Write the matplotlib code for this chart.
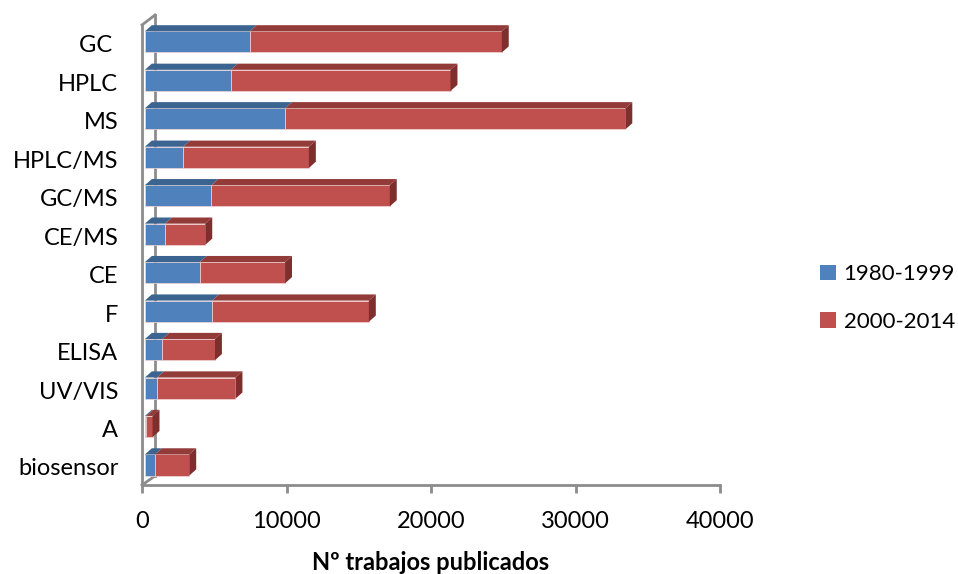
import matplotlib.pyplot as plt
from matplotlib.patches import Polygon, Patch
from matplotlib.lines import Line2D

plt.rcParams['font.family'] = ['Lato', 'DejaVu Sans']

categories = ['GC ', 'HPLC', 'MS', 'HPLC/MS', 'GC/MS', 'CE/MS', 'CE', 'F',
              'ELISA', 'UV/VIS', 'A', 'biosensor']
serie_1980_1999 = [7250, 5950, 9700, 2650, 4600, 1400, 3800, 4650, 1200, 850, 100, 700]
serie_2000_2014 = [17450, 15200, 23550, 8700, 12350, 2780, 5900, 10850, 3650, 5420, 430, 2370]
series_names = ['1980-1999', '2000-2014']
xticks = [0, 10000, 20000, 30000, 40000]

# colours: front, top, side
blue = ('#4F81BD', '#3C6491', '#2F5078')
red = ('#C0504D', '#933B39', '#7E2E2C')

# fake 3d geometry (data units)
dx = 480      # depth in x
dy = 0.16     # depth in y
h = 0.55      # bar height
yoff = 0.05
base = 200
wall = 900
floor = -0.47
top_lim = 11.75


def bar3d(ax, x0, w, yc, cols, side=True):
    yb = yc - h / 2 + yoff
    yt = yc + h / 2 + yoff
    x1 = x0 + w
    ax.add_patch(Polygon([(x0, yb), (x1, yb), (x1, yt), (x0, yt)], closed=True,
                         facecolor=cols[0], edgecolor='#f2d6d6', lw=0.5, zorder=3))
    ax.add_patch(Polygon([(x0, yt), (x1, yt), (x1 + dx, yt + dy), (x0 + dx, yt + dy)],
                         closed=True, facecolor=cols[1], edgecolor='none', zorder=3))
    if side:
        ax.add_patch(Polygon([(x1, yb), (x1 + dx, yb + dy), (x1 + dx, yt + dy), (x1, yt)],
                             closed=True, facecolor=cols[2], edgecolor='none', zorder=3))


fig = plt.figure(figsize=(9.58, 5.74), dpi=100)
ax = fig.add_axes([142 / 958, 89 / 574, 578 / 958, 470 / 574])

n = len(categories)
ypos = [n - 1 - i for i in range(n)]

# wall
ax.add_line(Line2D([0, 0], [floor, 11.49], color='#8c8c8c', lw=2, clip_on=False, zorder=1))
ax.add_line(Line2D([wall, wall], [floor + 0.235, top_lim], color='#8c8c8c', lw=2, clip_on=False, zorder=1))
ax.add_line(Line2D([0, wall], [11.49, top_lim], color='#8c8c8c', lw=2, clip_on=False, zorder=1))
ax.add_line(Line2D([0, wall], [floor, floor + 0.235], color='#8c8c8c', lw=2, clip_on=False, zorder=1))

for y, a, b in zip(ypos, serie_1980_1999, serie_2000_2014):
    bar3d(ax, base, a, y, blue, side=False)
    bar3d(ax, base + a, b, y, red)

ax.set_xlim(0, 40000)
ax.set_ylim(floor, top_lim)
for s in ['top', 'right', 'left']:
    ax.spines[s].set_visible(False)
ax.spines['bottom'].set_color('#8c8c8c')
ax.spines['bottom'].set_linewidth(2)

ax.set_xticks(xticks)
ax.set_xticklabels([str(t) for t in xticks])
ax.tick_params(axis='x', direction='out', length=6, width=2, color='#8c8c8c',
               labelsize=17, pad=13)
ax.set_yticks(ypos)
ax.set_yticklabels(categories)
ax.tick_params(axis='y', length=0, labelsize=17, pad=17)

fig.text(431 / 958, 1 - 562 / 574, 'Nº trabajos publicados', ha='center', va='center',
         fontsize=17, fontweight='bold')

handles = [Patch(facecolor=blue[0]), Patch(facecolor=red[0])]
fig.legend(handles, series_names, loc='center left', bbox_to_anchor=(820 / 958, 1 - 298 / 574),
           frameon=False, fontsize=16, handlelength=0.7, handleheight=0.7,
           handletextpad=0.36, labelspacing=1.25, borderpad=0, borderaxespad=0)

fig.savefig('out.png', dpi=100)
